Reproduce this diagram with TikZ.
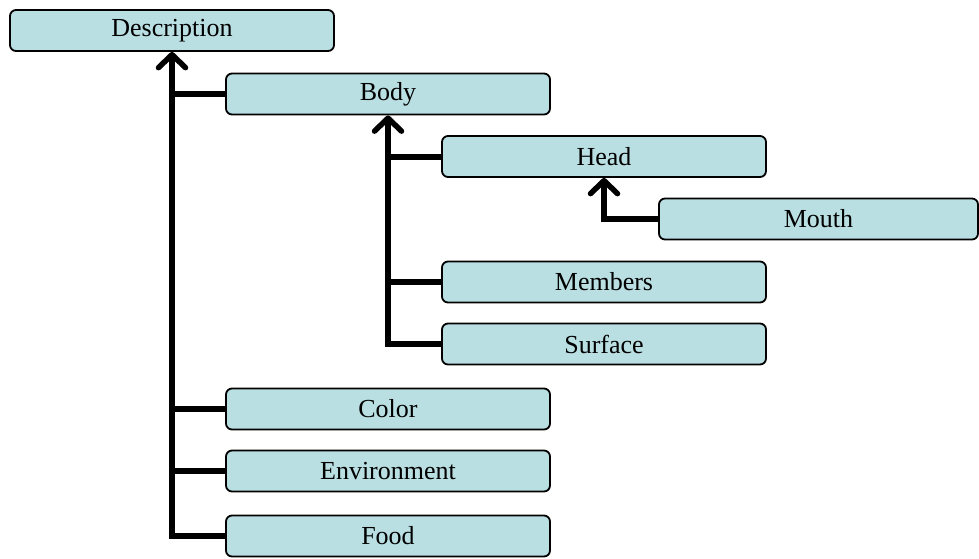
\documentclass[tikz,border=0pt]{standalone}
\usepackage{fontspec}
\setmainfont{Liberation Serif}
\usetikzlibrary{arrows.meta}
\definecolor{boxfill}{HTML}{B9DFE3}
\tikzset{
  box/.style={draw=black, line width=1.8pt, rounded corners=6pt, fill=boxfill,
    minimum height=41pt, inner sep=0pt, font=\fontsize{26}{30}\selectfont},
  wide/.style={box, minimum width=324pt},
  link/.style={line width=6pt},
  arr/.style={link, -{Straight Barb[length=13pt, width=27pt, line width=5.5pt, round]}},
}
\begin{document}
\begin{tikzpicture}[x=1pt, y=-1pt]
\useasboundingbox (0,0) rectangle (979,558);
\node[wide] (desc) at (172,30.5) {Description};
\node[wide] (body) at (388,94) {Body};
\node[wide] (head) at (604,156.5) {Head};
\node[box, minimum width=319pt] (mouth) at (818.5,219) {Mouth};
\node[wide] (members) at (604,282) {Members};
\node[wide] (surface) at (604,344) {Surface};
\node[wide] (color) at (388,409) {Color};
\node[wide] (env) at (388,471) {Environment};
\node[wide] (food) at (388,536) {Food};
% trunk from Description
\draw[arr] (food.west) -| (desc.south);
\draw[link] (body.west) -- (body.west -| desc.south);
\draw[link] (color.west) -- (color.west -| desc.south);
\draw[link] (env.west) -- (env.west -| desc.south);
% Body subtree
\draw[arr] (surface.west) -| (body.south);
\draw[link] (head.west) -- (head.west -| body.south);
\draw[link] (members.west) -- (members.west -| body.south);
% Head subtree
\draw[arr] (mouth.west) -| (head.south);
\end{tikzpicture}
\end{document}
